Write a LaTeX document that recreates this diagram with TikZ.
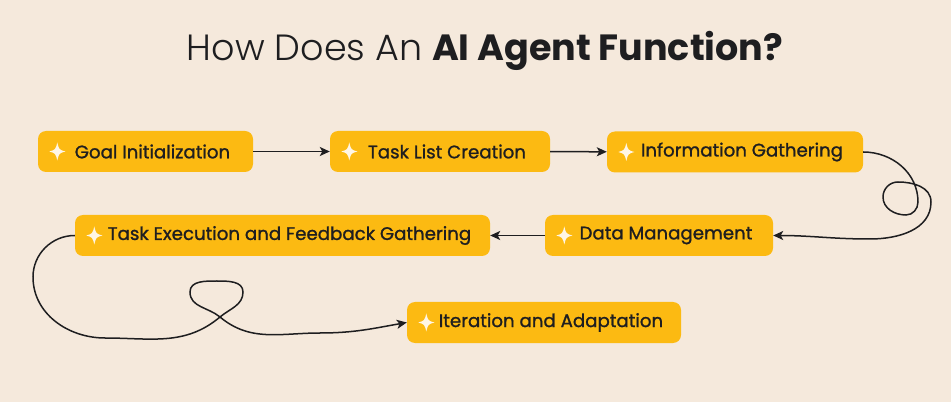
\documentclass[tikz,border=0pt]{standalone}
\usepackage{fontspec}
\setmainfont{Poppins}
\newfontfamily\stepfont[FakeBold=1.2]{Poppins}
\newfontfamily\titlelight{Poppins Light}
\usetikzlibrary{arrows.meta,positioning}
\definecolor{PageCream}{RGB}{245,233,220}
\definecolor{StepYellow}{RGB}{252,186,18}
\definecolor{InkDark}{RGB}{30,30,32}
\definecolor{SparkWhite}{RGB}{255,246,230}

\tikzset{sparkle/.pic={
  \fill[SparkWhite] (0,9) .. controls (1.8,1.8) .. (8,0) .. controls (1.8,-1.8) .. (0,-9)
    .. controls (-1.8,-1.8) .. (-8,0) .. controls (-1.8,1.8) .. cycle;}}

\begin{document}
\begin{tikzpicture}[x=1pt, y=1pt, >={Stealth[length=10pt, width=9pt, inset=2.5pt]},
  stepbox/.style={fill=StepYellow, rounded corners=8pt, minimum height=41pt, inner xsep=0pt,
                  text=InkDark, font=\stepfont\fontsize{18.2}{22}\selectfont},
  sig/.style={->, draw=InkDark, line width=1.5pt}]

  \fill[PageCream] (0,0) rectangle (951,402);
  \useasboundingbox (0,0) rectangle (951,402);

  \node[text=InkDark, font=\fontsize{36.5}{40}\selectfont] (title) at (485,351)
    {{\titlelight How Does An} \textbf{AI Agent Function?}};

  \node[stepbox, minimum width=215pt] (goal) at (145.5,250.5) {\hspace{14pt}Goal Initialization};
  \node[stepbox, minimum width=220pt] (task) at (440,250.5)   {\hspace{14pt}Task List Creation};
  \node[stepbox, minimum width=256pt] (info) at (735,250)     {\hspace{14pt}Information Gathering};
  \node[stepbox, minimum width=228pt] (data) at (659,166.5)   {\hspace{14pt}Data Management};
  \node[stepbox, minimum width=415pt] (exec) at (282.5,166.5) {\hspace{14pt}Task Execution and Feedback Gathering};
  \node[stepbox, minimum width=274pt] (iter) at (544,79.5)    {\hspace{14pt}Iteration and Adaptation};

  \foreach \n in {goal,task,info,data,exec,iter}
    \pic at ([xshift=19.5pt]\n.west) {sparkle};

  \draw[sig] (goal) -- (task);
  \draw[sig] (task) -- (info);
  \draw[sig] (info.east) to[out=0,in=90] (918,200) to[out=-90,in=0] (906,187)
    to[out=180,in=-90] (883,205) to[out=90,in=180] (898,220) to[out=0,in=90] (931,200)
    to[out=-90,in=0] (870,163) to[out=180,in=0] (data.east);
  \draw[sig] (data) -- (exec);
  \draw[sig] (exec.west) to[out=180,in=90] (33,125) to[out=-90,in=180] (105,64)
    to[out=0,in=-140] (220,85) to[out=40,in=-90] (243,110) to[out=90,in=0] (217,121)
    to[out=180,in=90] (190,110) to[out=-90,in=140] (220,85) to[out=-40,in=180] (320,69)
    to[out=0,in=190] (iter.west);
\end{tikzpicture}
\end{document}
